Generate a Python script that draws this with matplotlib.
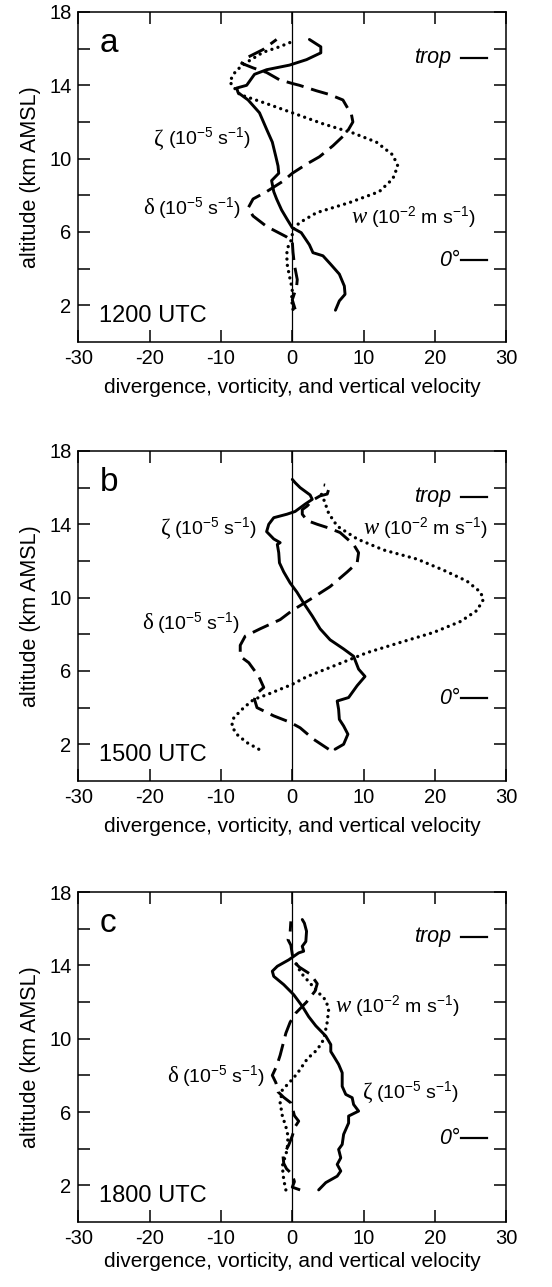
import matplotlib
matplotlib.use('Agg')
import matplotlib.pyplot as plt
from matplotlib.ticker import FixedLocator
from matplotlib.offsetbox import TextArea, HPacker, AnnotationBbox

plt.rcParams['font.family'] = ['Liberation Sans', 'DejaVu Sans']
plt.rcParams['mathtext.fontset'] = 'custom'
plt.rcParams['mathtext.rm'] = 'Liberation Sans'
plt.rcParams['mathtext.it'] = 'Liberation Sans:italic'
plt.rcParams['mathtext.default'] = 'regular'
plt.rcParams['axes.unicode_minus'] = False

# ---- panel a, 1200 UTC ----
a_zeta_x = [6.05, 6.6, 7.4, 7.3, 6.6, 5.4, 4.3, 2.9, 2.4, 1.26, 0.0, -0.74, -1.5, -2.2, -2.6, -2.9,
            -1.9, -2.0, -2.3, -2.8, -3.6, -4.6, -6.2, -7.6, -7.8, -6.4, -5.3, -3.6, -0.4, 2.0, 4.0,
            4.0, 2.4]
a_zeta_z = [1.73, 2.24, 2.6, 3.05, 3.7, 4.23, 4.7, 4.87, 5.3, 5.96, 6.23, 6.7, 7.2, 7.8, 8.2, 8.8,
            9.2, 9.6, 10.1, 10.9, 11.6, 12.5, 13.2, 13.6, 13.85, 14.0, 14.6, 14.85, 15.1, 15.4, 15.77,
            16.1, 16.5]
a_delta_x = [0.4, 0.0, 0.6, 0.7, 0.3, 0.1, 0.0, -0.84, -3.6, -5.5, -6.2, -5.5, -3.6, -1.3, 0.0, 2.0,
             3.8, 5.7, 7.6, 8.5, 8.3, 7.1, 5.2, 3.4, 1.0, 0.0, -1.8, -3.6, -5.5, -7.1, -6.4, -4.1, -2.2]
a_delta_z = [1.78, 2.3, 3.0, 3.4, 4.2, 4.9, 5.5, 5.74, 6.3, 6.87, 7.3, 7.8, 8.2, 8.77, 9.2, 9.7,
             10.1, 10.7, 11.4, 12.0, 12.4, 13.2, 13.5, 13.7, 14.0, 14.1, 14.3, 14.7, 14.95, 15.2, 15.5,
             15.95, 16.5]
a_w_x = [0.1, -0.1, 0.0, -0.4, -0.75, -0.75, -0.1, 0.1, 1.0, 3.4, 8.0, 12.2, 14.1, 14.8, 14.1, 11.8,
         8.5, 4.3, 0.0, -3.6, -7.4, -8.1, -8.8, -7.9, -6.2, -4.1, -1.8, 0.1]
a_w_z = [1.78, 2.3, 2.87, 3.6, 4.3, 5.05, 5.6, 6.14, 6.5, 7.05, 7.6, 8.2, 8.9, 9.6, 10.2, 10.9,
         11.4, 11.9, 12.5, 13.0, 13.5, 13.85, 14.2, 14.8, 15.3, 15.8, 16.1, 16.4]

# ---- panel b, 1500 UTC ----
b_zeta_x = [6.0, 7.2, 7.8, 7.2, 6.6, 6.5, 6.3, 7.9, 9.1, 10.2, 9.3, 8.8, 8.6, 7.2, 5.3, 3.9, 2.8,
            1.6, 0.65, -0.3, -1.2, -1.8, -1.9, -2.1, -1.7, -2.6, -3.6, -3.3, -2.6, -0.75, 0.4, 1.8,
            2.8, 2.5, 1.1, 0.4, 0.0]
b_zeta_z = [1.73, 2.0, 2.55, 3.0, 3.36, 3.9, 4.36, 4.55, 5.2, 5.7, 6.1, 6.6, 6.8, 7.2, 7.7, 8.3, 9.0,
            9.7, 10.3, 10.8, 11.4, 11.9, 12.45, 12.9, 13.0, 13.2, 13.6, 14.0, 14.36, 14.55, 14.7, 15.1,
            15.36, 15.6, 16.0, 16.27, 16.45]
b_delta_x = [5.1, 3.0, 1.1, -0.3, -2.6, -4.95, -5.3, -5.2, -4.0, -4.7, -6.1, -7.3, -7.3, -6.6, -4.5,
             -1.7, 0.0, 2.5, 5.3, 7.7, 9.1, 9.3, 8.6, 6.7, 5.1, 3.5, 2.1, 1.4, 1.4, 2.1, 2.8, 3.9, 4.9,
             5.1, 5.1, 4.4]
b_delta_z = [1.73, 2.27, 2.9, 3.2, 3.55, 4.0, 4.45, 4.7, 5.1, 5.7, 6.45, 6.8, 7.4, 7.9, 8.3, 8.8, 9.3,
             9.9, 10.6, 11.4, 11.9, 12.45, 12.9, 13.55, 13.8, 14.0, 14.2, 14.55, 14.8, 15.0, 15.3,
             15.55, 15.65, 15.9, 16.1, 16.15]
b_w_x = [-4.7, -6.4, -7.8, -8.5, -8.2, -6.8, -5.4, -3.6, 0.0, 2.1, 5.8, 10.5, 15.1, 19.8, 23.6, 25.9,
         26.8, 26.4, 24.5, 21.2, 17.5, 12.8, 9.1, 6.3, 5.1, 4.5, 3.9]
b_w_z = [1.73, 2.1, 2.55, 3.0, 3.45, 4.0, 4.45, 4.7, 5.27, 5.7, 6.27, 7.0, 7.55, 8.1, 8.7, 9.3,
         9.9, 10.3, 10.9, 11.5, 12.1, 12.6, 13.2, 13.9, 14.6, 15.27, 15.8]

# ---- panel c, 1800 UTC ----
c_zeta_x = [3.7, 4.7, 6.3, 6.8, 6.3, 6.8, 6.5, 7.0, 7.2, 7.9, 7.9, 9.3, 8.6, 8.4, 7.5, 7.0, 7.0, 6.5,
            5.8, 5.4, 5.4, 4.7, 3.3, 2.3, 1.4, 0.2, -1.2, -2.6, -2.8, -2.1, -0.5, 0.9, 1.6, 1.4, 1.9,
            2.0, 1.7, 1.4]
c_zeta_z = [1.75, 2.15, 2.5, 2.78, 3.14, 3.5, 3.96, 4.23, 4.78, 5.4, 5.78, 6.05, 6.41, 6.78, 6.96, 7.4,
            8.14, 8.6, 9.05, 9.3, 9.68, 10.14, 10.7, 11.2, 11.77, 12.4, 12.95, 13.4, 13.68, 13.95,
            14.3, 14.68, 14.77, 15.04, 15.3, 15.86, 16.3, 16.5]
c_delta_x = [1.1, 0.0, 0.3, 0.0, -0.8, -1.2, -1.3, -0.5, 0.0, 0.4, 0.9, 0.3, 0.1, -0.2, -1.2, -2.0,
             -2.3, -2.8, -2.2, -1.7, -1.3, -0.9, -0.3, 0.5, 2.0, 3.2, 3.5, 2.6, 1.0, 0.2, 0.0, -0.2,
             -0.6, -0.3, -0.2]
c_delta_z = [1.75, 1.9, 2.2, 2.6, 2.9, 3.2, 3.6, 4.2, 4.7, 5.2, 5.5, 5.8, 6.1, 6.5, 6.8, 7.1,
             7.6, 8.0, 8.5, 9.1, 9.7, 10.3, 10.9, 11.4, 12.0, 12.6, 13.0, 13.5, 13.9, 14.2, 14.6,
             15.1, 15.4, 15.8, 16.4]
c_w_x = [-0.9, -1.2, -1.4, -0.7, -0.6, -0.9, -1.4, -1.7, -1.4, -0.2, 0.7, 2.1, 3.5, 4.4, 4.9, 5.1,
         4.7, 3.7, 2.1, 1.2, 0.3]
c_w_z = [1.75, 2.3, 3.05, 3.96, 4.7, 5.2, 5.8, 6.5, 7.2, 7.7, 8.1, 8.9, 9.4, 9.95, 10.9, 11.6,
         12.1, 12.5, 13.2, 13.6, 14.3]

panel_letters = ['a', 'b', 'c']
panel_times = ['1200 UTC', '1500 UTC', '1800 UTC']
trop_alt = [15.5, 15.5, 15.55]
zero_alt = [4.47, 4.5, 4.58]

unit_div = r'(10$^{-5}$ s$^{-1}$)'
unit_w = r'(10$^{-2}$ m s$^{-1}$)'


def curve_label(ax, sym, unit, x, y, ha, italic=False):
    sym_box = TextArea(sym, textprops=dict(family=['Liberation Serif'], size=16.5,
                                           style='italic' if italic else 'normal'))
    unit_box = TextArea(unit, textprops=dict(size=14))
    pack = HPacker(children=[sym_box, unit_box], align='baseline', pad=0, sep=3)
    bx = 1.0 if ha == 'right' else 0.0
    ab = AnnotationBbox(pack, (x, y), xycoords='data', box_alignment=(bx, 0.5),
                        frameon=False, pad=0)
    ax.add_artist(ab)


fig = plt.figure(figsize=(5.52, 12.87), dpi=100)
bottoms = [0.7343, 0.3932, 0.0505]
axes = [fig.add_axes([0.142, b, 0.775, 0.2564]) for b in bottoms]

data = [
    (a_zeta_x, a_zeta_z, a_delta_x, a_delta_z, a_w_x, a_w_z),
    (b_zeta_x, b_zeta_z, b_delta_x, b_delta_z, b_w_x, b_w_z),
    (c_zeta_x, c_zeta_z, c_delta_x, c_delta_z, c_w_x, c_w_z),
]

for i, ax in enumerate(axes):
    zx, zz, dx, dz, wx, wz = data[i]
    ax.axvline(0, color='black', lw=0.9)
    ax.plot(zx, zz, color='black', lw=2.1, solid_joinstyle='round', solid_capstyle='round')
    ax.plot(dx, dz, color='black', lw=2.1, linestyle=(0, (6.0, 2.7)))
    ax.plot(wx, wz, color='black', lw=2.4, linestyle=(0, (0.01, 1.9)),
            dash_capstyle='round')

    ax.set_xlim(-30, 30)
    ax.set_ylim(0, 18)
    ax.set_xticks([-30, -20, -10, 0, 10, 20, 30])
    ax.set_yticks([2, 6, 10, 14, 18])
    ax.yaxis.set_minor_locator(FixedLocator([4, 8, 12, 16]))
    ax.tick_params(which='both', direction='in', length=8.5, width=1.1,
                   top=True, right=True, labelsize=14.5, pad=5)
    for sp in ax.spines.values():
        sp.set_linewidth(1.1)

    ax.set_ylabel('altitude (km AMSL)', fontsize=15.5, labelpad=6)
    ax.set_xlabel('divergence, vorticity, and vertical velocity', fontsize=15,
                  labelpad=7 if i < 2 else 3)

    ax.text(0.049, 0.88, panel_letters[i], transform=ax.transAxes, fontsize=24,
            va='baseline')
    ax.text(0.049, 0.06, panel_times[i], transform=ax.transAxes, fontsize=17,
            va='baseline')

    yt = ax.get_yaxis_transform()
    ax.text(0.871, trop_alt[i], 'trop', transform=yt, ha='right', va='center',
            fontsize=15.5, style='italic')
    ax.plot([0.895, 0.956], [trop_alt[i]] * 2, transform=yt, color='black', lw=1.6)
    ax.text(0.892, zero_alt[i], '0°', transform=yt, ha='right', va='center',
            fontsize=15.5, style='italic')
    ax.plot([0.895, 0.956], [zero_alt[i]] * 2, transform=yt, color='black', lw=1.6)

curve_label(axes[0], 'ζ', unit_div, -5.75, 11.1, 'right')
curve_label(axes[0], 'δ', unit_div, -7.15, 7.3, 'right')
curve_label(axes[0], 'w', unit_w, 8.3, 6.8, 'left', italic=True)

curve_label(axes[1], 'ζ', unit_div, -4.9, 13.8, 'right')
curve_label(axes[1], 'δ', unit_div, -7.3, 8.64, 'right')
curve_label(axes[1], 'w', unit_w, 9.96, 13.8, 'left', italic=True)

curve_label(axes[2], 'w', unit_w, 6.1, 11.8, 'left', italic=True)
curve_label(axes[2], 'δ', unit_div, -3.75, 7.97, 'right')
curve_label(axes[2], 'ζ', unit_div, 9.85, 7.1, 'left')

fig.savefig('out.png', dpi=100)
